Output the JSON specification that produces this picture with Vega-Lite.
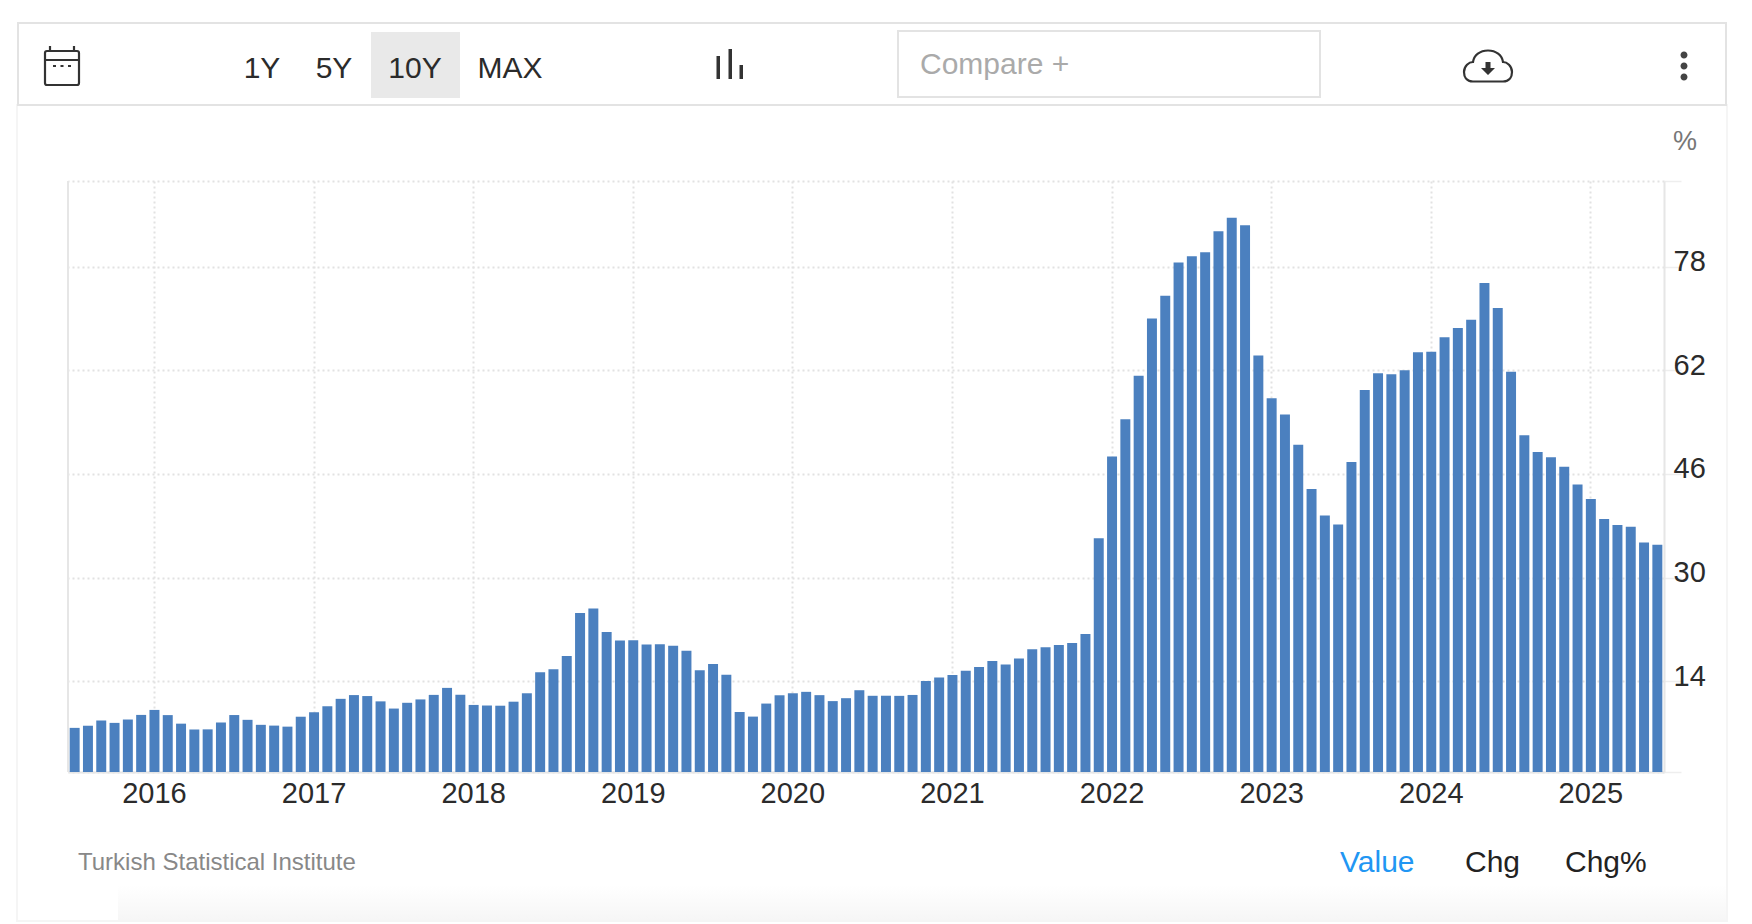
{
"$schema":"https://vega.github.io/schema/vega-lite/v6.json",
"width":1596,"height":591,
"autosize":"none",
"padding":{"left":68,"top":181,"right":88,"bottom":152},
"background":"#ffffff",
"view":{"stroke":null},
"config":{"font":"Liberation Sans"},
"data":{"values":[
{"month":"2015-07","value":6.81},{"month":"2015-08","value":7.14},{"month":"2015-09","value":7.95},{"month":"2015-10","value":7.58},{"month":"2015-11","value":8.10},{"month":"2015-12","value":8.81},
{"month":"2016-01","value":9.58},{"month":"2016-02","value":8.78},{"month":"2016-03","value":7.46},{"month":"2016-04","value":6.57},{"month":"2016-05","value":6.58},{"month":"2016-06","value":7.64},{"month":"2016-07","value":8.79},{"month":"2016-08","value":8.05},{"month":"2016-09","value":7.28},{"month":"2016-10","value":7.16},{"month":"2016-11","value":7.00},{"month":"2016-12","value":8.53},
{"month":"2017-01","value":9.22},{"month":"2017-02","value":10.13},{"month":"2017-03","value":11.29},{"month":"2017-04","value":11.87},{"month":"2017-05","value":11.72},{"month":"2017-06","value":10.90},{"month":"2017-07","value":9.79},{"month":"2017-08","value":10.68},{"month":"2017-09","value":11.20},{"month":"2017-10","value":11.90},{"month":"2017-11","value":12.98},{"month":"2017-12","value":11.92},
{"month":"2018-01","value":10.35},{"month":"2018-02","value":10.26},{"month":"2018-03","value":10.23},{"month":"2018-04","value":10.85},{"month":"2018-05","value":12.15},{"month":"2018-06","value":15.39},{"month":"2018-07","value":15.85},{"month":"2018-08","value":17.90},{"month":"2018-09","value":24.52},{"month":"2018-10","value":25.24},{"month":"2018-11","value":21.62},{"month":"2018-12","value":20.30},
{"month":"2019-01","value":20.35},{"month":"2019-02","value":19.67},{"month":"2019-03","value":19.71},{"month":"2019-04","value":19.50},{"month":"2019-05","value":18.71},{"month":"2019-06","value":15.72},{"month":"2019-07","value":16.65},{"month":"2019-08","value":15.01},{"month":"2019-09","value":9.26},{"month":"2019-10","value":8.55},{"month":"2019-11","value":10.56},{"month":"2019-12","value":11.84},
{"month":"2020-01","value":12.15},{"month":"2020-02","value":12.37},{"month":"2020-03","value":11.86},{"month":"2020-04","value":10.94},{"month":"2020-05","value":11.39},{"month":"2020-06","value":12.62},{"month":"2020-07","value":11.76},{"month":"2020-08","value":11.77},{"month":"2020-09","value":11.75},{"month":"2020-10","value":11.89},{"month":"2020-11","value":14.03},{"month":"2020-12","value":14.60},
{"month":"2021-01","value":14.97},{"month":"2021-02","value":15.61},{"month":"2021-03","value":16.19},{"month":"2021-04","value":17.14},{"month":"2021-05","value":16.59},{"month":"2021-06","value":17.53},{"month":"2021-07","value":18.95},{"month":"2021-08","value":19.25},{"month":"2021-09","value":19.58},{"month":"2021-10","value":19.89},{"month":"2021-11","value":21.31},{"month":"2021-12","value":36.08},
{"month":"2022-01","value":48.69},{"month":"2022-02","value":54.44},{"month":"2022-03","value":61.14},{"month":"2022-04","value":69.97},{"month":"2022-05","value":73.50},{"month":"2022-06","value":78.62},{"month":"2022-07","value":79.60},{"month":"2022-08","value":80.21},{"month":"2022-09","value":83.45},{"month":"2022-10","value":85.51},{"month":"2022-11","value":84.39},{"month":"2022-12","value":64.27},
{"month":"2023-01","value":57.68},{"month":"2023-02","value":55.18},{"month":"2023-03","value":50.51},{"month":"2023-04","value":43.68},{"month":"2023-05","value":39.59},{"month":"2023-06","value":38.21},{"month":"2023-07","value":47.83},{"month":"2023-08","value":58.94},{"month":"2023-09","value":61.53},{"month":"2023-10","value":61.36},{"month":"2023-11","value":61.98},{"month":"2023-12","value":64.77},
{"month":"2024-01","value":64.86},{"month":"2024-02","value":67.07},{"month":"2024-03","value":68.50},{"month":"2024-04","value":69.80},{"month":"2024-05","value":75.45},{"month":"2024-06","value":71.60},{"month":"2024-07","value":61.78},{"month":"2024-08","value":51.97},{"month":"2024-09","value":49.38},{"month":"2024-10","value":48.58},{"month":"2024-11","value":47.09},{"month":"2024-12","value":44.38},
{"month":"2025-01","value":42.12},{"month":"2025-02","value":39.05},{"month":"2025-03","value":38.10},{"month":"2025-04","value":37.86},{"month":"2025-05","value":35.41},{"month":"2025-06","value":35.05}
]},
"layer":[
{"data":{"values":[{"item":"panel"}]},"mark":{"type":"rect","fill":null,"stroke":"#f5f5f5","strokeWidth":2},
 "encoding":{"x":{"value":-51},"x2":{"value":1659},"y":{"value":-76},"y2":{"value":740}}},
{"data":{"values":[{"item":"panel shadow"}]},"mark":{"type":"rect","fill":{"gradient":"linear","x1":0,"y1":0,"x2":0,"y2":1,"stops":[{"offset":0,"color":"#ffffff"},{"offset":1,"color":"#f6f6f6"}]}},
 "encoding":{"x":{"value":50},"x2":{"value":1658},"y":{"value":704},"y2":{"value":739}}},
{"data":{"values":[{"item":"toolbar"}]},"mark":{"type":"rect","fill":"#ffffff","stroke":"#e3e3e3","strokeWidth":2},
 "encoding":{"x":{"value":-50},"x2":{"value":1658},"y":{"value":-158},"y2":{"value":-76}}},
{"data":{"values":[{"item":"selected range"}]},"mark":{"type":"rect","fill":"#e9e9e9"},
 "encoding":{"x":{"value":303},"x2":{"value":392},"y":{"value":-149},"y2":{"value":-83}}},
{"data":{"values":[{"item":"compare box"}]},"mark":{"type":"rect","fill":"#ffffff","stroke":"#e3e3e3","strokeWidth":2},
 "encoding":{"x":{"value":830},"x2":{"value":1252},"y":{"value":-150},"y2":{"value":-84}}},
{"data":{"values":[{"item":"left edge"}]},"mark":{"type":"rule","stroke":"#e6e6e6","strokeWidth":2},
 "encoding":{"x":{"value":0},"y":{"value":0},"y2":{"value":591}}},
{"mark":{"type":"bar","fill":"#4b80bf"},
 "encoding":{
  "x":{"field":"month","type":"ordinal","sort":null,"title":null,
   "scale":{"paddingInner":0.25,"paddingOuter":0.125},
   "axis":{"values":["2016-01","2017-01","2018-01","2019-01","2020-01","2021-01","2022-01","2023-01","2024-01","2025-01"],
    "labelExpr":"slice(datum.value,0,4)","labelAngle":0,"labelFontSize":29,"labelColor":"#2b2b2b","labelFont":"Liberation Sans","labelBaseline":"alphabetic","labelPadding":30,"labelOverlap":false,
    "ticks":false,"domain":true,"domainColor":"#e6e6e6","domainWidth":2,
    "grid":true,"gridColor":"#e2e2e2","gridDash":[2,3],"gridWidth":2}},
  "y":{"field":"value","type":"quantitative","title":null,
   "scale":{"domain":[0,91.2],"nice":false,"zero":false},
   "axis":{"orient":"right","values":[0,14,30,46,62,78,91.2],
    "labelExpr":"datum.value==0||datum.value>90?'':datum.value","labelFontSize":29,"labelColor":"#2b2b2b","labelFont":"Liberation Sans","labelBaseline":"alphabetic","labelAlign":"left","labelPadding":-8,"labelOffset":4,"labelOverlap":false,"labelFlush":false,
    "ticks":true,"tickSize":17,"tickColor":"#eeeeee","tickWidth":1.5,"domain":true,"domainColor":"#e6e6e6","domainWidth":2,
    "grid":true,"gridColor":"#e2e2e2","gridDash":[2,3],"gridWidth":2}}
 }},
{"data":{"values":[{"label":"1Y"}]},"mark":{"type":"text","font":"Liberation Sans","fontSize":30,"align":"center","baseline":"alphabetic","color":"#2b2b2b"},"encoding":{"text":{"field":"label"},"x":{"value":194},"y":{"value":-103}}},
{"data":{"values":[{"label":"5Y"}]},"mark":{"type":"text","font":"Liberation Sans","fontSize":30,"align":"center","baseline":"alphabetic","color":"#2b2b2b"},"encoding":{"text":{"field":"label"},"x":{"value":266},"y":{"value":-103}}},
{"data":{"values":[{"label":"10Y"}]},"mark":{"type":"text","font":"Liberation Sans","fontSize":30,"align":"center","baseline":"alphabetic","color":"#2b2b2b"},"encoding":{"text":{"field":"label"},"x":{"value":347},"y":{"value":-103}}},
{"data":{"values":[{"label":"MAX"}]},"mark":{"type":"text","font":"Liberation Sans","fontSize":30,"align":"center","baseline":"alphabetic","color":"#2b2b2b"},"encoding":{"text":{"field":"label"},"x":{"value":442},"y":{"value":-103}}},
{"data":{"values":[{"label":"Compare +"}]},"mark":{"type":"text","font":"Liberation Sans","fontSize":30,"align":"left","baseline":"alphabetic","color":"#aaaaaa"},"encoding":{"text":{"field":"label"},"x":{"value":852},"y":{"value":-107}}},
{"data":{"values":[{"label":"%"}]},"mark":{"type":"text","font":"Liberation Sans","fontSize":27,"align":"center","baseline":"alphabetic","color":"#777777"},"encoding":{"text":{"field":"label"},"x":{"value":1617},"y":{"value":-31}}},
{"data":{"values":[{"label":"Turkish Statistical Institute"}]},"mark":{"type":"text","font":"Liberation Sans","fontSize":24,"align":"left","baseline":"alphabetic","color":"#888888"},"encoding":{"text":{"field":"label"},"x":{"value":10},"y":{"value":689}}},
{"data":{"values":[{"label":"Value"}]},"mark":{"type":"text","font":"Liberation Sans","fontSize":30,"align":"left","baseline":"alphabetic","color":"#2196f3"},"encoding":{"text":{"field":"label"},"x":{"value":1272},"y":{"value":691}}},
{"data":{"values":[{"label":"Chg"}]},"mark":{"type":"text","font":"Liberation Sans","fontSize":30,"align":"left","baseline":"alphabetic","color":"#222222"},"encoding":{"text":{"field":"label"},"x":{"value":1397},"y":{"value":691}}},
{"data":{"values":[{"label":"Chg%"}]},"mark":{"type":"text","font":"Liberation Sans","fontSize":30,"align":"left","baseline":"alphabetic","color":"#222222"},"encoding":{"text":{"field":"label"},"x":{"value":1497},"y":{"value":691}}},
{"data":{"values":[{"item":"calendar icon"}]},"mark":{"type":"point","shape":"M-15,-17H15Q17,-17 17,-15V15Q17,17 15,17H-15Q-17,17 -17,15V-15Q-17,-17 -15,-17Z M-17,-8H17 M-12,-22V-17 M12,-22V-17 M-9,-2h3 M-1.5,-2h3 M6,-2h3","size":4,"filled":false,"stroke":"#333333","strokeWidth":2.2,"opacity":1},"encoding":{"x":{"value":-6},"y":{"value":-113}}},
{"data":{"values":[{"item":"bars icon"}]},"mark":{"type":"point","shape":"M-13.5,-8H-10V15H-13.5Z M-1.5,-15H2V15H-1.5Z M9.5,1H13V15H9.5Z","size":4,"filled":true,"fill":"#333333","strokeWidth":0,"opacity":1},"encoding":{"x":{"value":662},"y":{"value":-117}}},
{"data":{"values":[{"item":"cloud icon"}]},"mark":{"type":"point","shape":"M-15,15.5H15C22,15.5 24,10 24,6C24,0 19,-4 15,-4C14,-11 8,-15.5 0,-15.5C-8,-15.5 -14,-11 -15,-4C-19,-4 -24,0 -24,6C-24,10 -22,15.5 -15,15.5Z","size":4,"filled":false,"stroke":"#333333","strokeWidth":2.2,"opacity":1},"encoding":{"x":{"value":1420},"y":{"value":-115}}},
{"data":{"values":[{"item":"download arrow"}]},"mark":{"type":"point","shape":"M-2.5,-4H2.5V2H7L0,9L-7,2H-2.5Z","size":4,"filled":true,"fill":"#333333","strokeWidth":0,"opacity":1},"encoding":{"x":{"value":1420},"y":{"value":-115}}},
{"data":{"values":[{"item":"menu icon"}]},"mark":{"type":"point","shape":"M-3.5,-11a3.5,3.5 0 1,0 7,0a3.5,3.5 0 1,0 -7,0Z M-3.5,0a3.5,3.5 0 1,0 7,0a3.5,3.5 0 1,0 -7,0Z M-3.5,11a3.5,3.5 0 1,0 7,0a3.5,3.5 0 1,0 -7,0Z","size":4,"filled":true,"fill":"#444444","strokeWidth":0,"opacity":1},"encoding":{"x":{"value":1616},"y":{"value":-115}}}
]
}
